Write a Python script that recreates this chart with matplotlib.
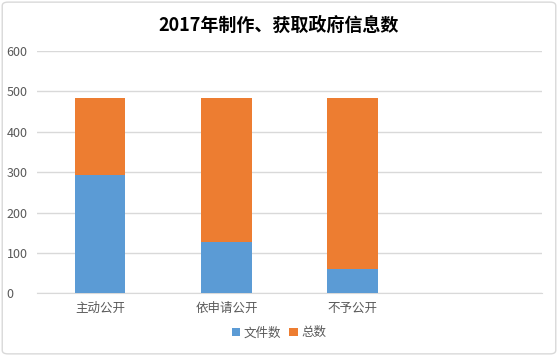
import matplotlib
matplotlib.use("Agg")
import matplotlib.pyplot as plt
from matplotlib.patches import FancyBboxPatch

plt.rcParams["font.family"] = ["Noto Sans CJK SC", "DejaVu Sans"]

categories = ["主动公开", "依申请公开", "不予公开", ""]
file_counts = [293, 128, 60, 0]
total_counts = [191, 356, 424, 0]
series_names = ["文件数", "总数"]
yticks = [0, 100, 200, 300, 400, 500, 600]

blue = "#5b9bd5"
orange = "#ed7d31"
grey_text = "#595959"

fig = plt.figure(figsize=(5.58, 3.56), dpi=100)
ax = fig.add_axes([0.0663, 0.176, 0.905, 0.681])

x = list(range(len(categories)))
ax.bar(x, file_counts, width=0.4, color=blue, label=series_names[0], zorder=3)
ax.bar(x, total_counts, width=0.4, bottom=file_counts, color=orange,
       label=series_names[1], zorder=3)

ax.set_xlim(-0.5, len(categories) - 0.5)
ax.set_ylim(0, 600)
ax.set_yticks(yticks)
ax.set_xticks(x)
ax.set_xticklabels(categories)
ax.yaxis.grid(True, color="#d9d9d9", linewidth=1, zorder=0)
ax.tick_params(axis="both", length=0, labelsize=9, labelcolor=grey_text)
ax.tick_params(axis="y", pad=22)
ax.tick_params(axis="x", pad=6)
for lab in ax.get_yticklabels():
    lab.set_horizontalalignment("left")
for side in ["top", "right", "left"]:
    ax.spines[side].set_visible(False)
ax.spines["bottom"].set_color("#d9d9d9")

fig.text(0.5, 0.93, "2017年制作、获取政府信息数", ha="center", va="center",
         fontsize=13, fontweight="bold", color="black")

fig.legend(loc="center", bbox_to_anchor=(0.5, 0.065), ncol=2, frameon=False,
           fontsize=9, labelcolor=grey_text, handlelength=0.7, handleheight=0.7,
           handletextpad=0.3, columnspacing=0.6)

border = FancyBboxPatch((0.004, 0.006), 0.992, 0.988,
                        boxstyle="round,pad=0,rounding_size=0.01",
                        transform=fig.transFigure, facecolor="none",
                        edgecolor="#d9d9d9", linewidth=1)
fig.patches.append(border)

fig.savefig("out.png", dpi=100)
